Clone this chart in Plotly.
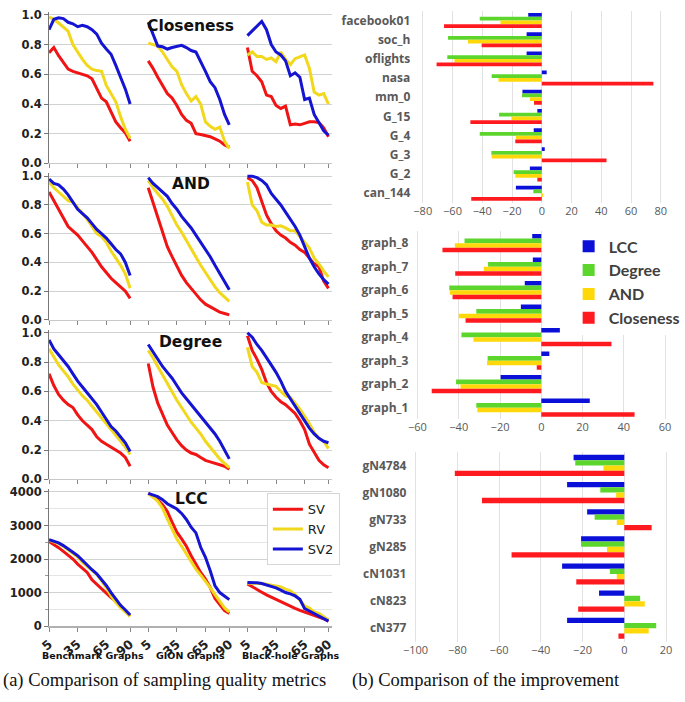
import plotly.graph_objects as go

W, H = 685, 702

# ---------------- Data: sampling quality metrics ----------------
rates = [5, 10, 15, 20, 25, 30, 35, 40, 45, 50, 55, 60, 65, 70, 75, 80, 85, 90]
groups = ["Benchmark Graphs", "GION Graphs", "Black-hole Graphs"]
metrics = ["Closeness", "AND", "Degree", "LCC"]
methods = ["SV", "RV", "SV2"]

closeness_sv = [
    [0.745, 0.78, 0.725, 0.68, 0.635, 0.62, 0.61, 0.605, 0.59, 0.57, 0.50, 0.44, 0.415, 0.35, 0.28, 0.24, 0.205, 0.15],
    [0.69, 0.64, 0.58, 0.52, 0.47, 0.44, 0.39, 0.33, 0.29, 0.27, 0.20, 0.195, 0.19, 0.18, 0.165, 0.15, 0.125, 0.11],
    [0.78, 0.62, 0.59, 0.55, 0.46, 0.45, 0.39, 0.37, 0.385, 0.26, 0.265, 0.26, 0.27, 0.28, 0.28, 0.275, 0.24, 0.18],
]
closeness_rv = [
    [0.985, 0.97, 0.945, 0.92, 0.89, 0.80, 0.745, 0.70, 0.66, 0.635, 0.625, 0.62, 0.525, 0.47, 0.415, 0.315, 0.23, 0.17],
    [0.81, 0.80, 0.79, 0.75, 0.70, 0.65, 0.62, 0.53, 0.47, 0.42, 0.45, 0.40, 0.28, 0.25, 0.23, 0.245, 0.15, 0.10],
    [0.73, 0.75, 0.72, 0.72, 0.70, 0.71, 0.685, 0.75, 0.70, 0.665, 0.705, 0.72, 0.73, 0.64, 0.48, 0.46, 0.47, 0.40],
]
closeness_sv2 = [
    [0.90, 0.97, 0.98, 0.975, 0.95, 0.94, 0.92, 0.93, 0.92, 0.90, 0.87, 0.81, 0.77, 0.735, 0.66, 0.58, 0.50, 0.40],
    [0.95, 0.87, 0.79, 0.785, 0.77, 0.78, 0.79, 0.795, 0.78, 0.76, 0.75, 0.69, 0.62, 0.55, 0.51, 0.43, 0.33, 0.26],
    [0.86, 0.89, 0.92, 0.955, 0.90, 0.80, 0.75, 0.73, 0.69, 0.59, 0.61, 0.58, 0.43, 0.44, 0.33, 0.27, 0.22, 0.19],
]

and_sv = [
    [0.89, 0.83, 0.77, 0.70, 0.65, 0.62, 0.59, 0.55, 0.51, 0.47, 0.42, 0.37, 0.33, 0.29, 0.26, 0.23, 0.20, 0.15],
    [0.92, 0.82, 0.71, 0.61, 0.51, 0.44, 0.37, 0.31, 0.26, 0.22, 0.18, 0.14, 0.11, 0.09, 0.07, 0.055, 0.045, 0.035],
    [0.99, 0.97, 0.92, 0.82, 0.73, 0.67, 0.62, 0.59, 0.57, 0.54, 0.52, 0.49, 0.47, 0.43, 0.39, 0.37, 0.27, 0.22],
]
and_rv = [
    [0.96, 0.92, 0.89, 0.86, 0.83, 0.82, 0.78, 0.74, 0.70, 0.65, 0.60, 0.58, 0.54, 0.48, 0.43, 0.38, 0.32, 0.22],
    [0.97, 0.92, 0.88, 0.84, 0.79, 0.72, 0.66, 0.61, 0.55, 0.49, 0.43, 0.38, 0.33, 0.28, 0.23, 0.19, 0.16, 0.13],
    [0.96, 0.80, 0.76, 0.68, 0.66, 0.66, 0.65, 0.655, 0.64, 0.62, 0.62, 0.58, 0.54, 0.50, 0.43, 0.39, 0.34, 0.30],
]
and_sv2 = [
    [0.98, 0.95, 0.94, 0.91, 0.87, 0.82, 0.77, 0.74, 0.71, 0.67, 0.63, 0.60, 0.57, 0.53, 0.49, 0.46, 0.40, 0.31],
    [0.99, 0.95, 0.92, 0.89, 0.86, 0.81, 0.77, 0.72, 0.68, 0.64, 0.59, 0.54, 0.49, 0.44, 0.38, 0.32, 0.27, 0.21],
    [1.00, 1.00, 0.99, 0.97, 0.94, 0.88, 0.84, 0.80, 0.75, 0.70, 0.65, 0.59, 0.51, 0.43, 0.37, 0.32, 0.28, 0.25],
]

degree_sv = [
    [0.72, 0.64, 0.58, 0.54, 0.51, 0.49, 0.44, 0.40, 0.37, 0.34, 0.29, 0.26, 0.24, 0.22, 0.20, 0.18, 0.15, 0.09],
    [0.79, 0.63, 0.52, 0.44, 0.37, 0.32, 0.27, 0.23, 0.20, 0.18, 0.17, 0.15, 0.13, 0.12, 0.11, 0.10, 0.09, 0.07],
    [0.98, 0.88, 0.82, 0.75, 0.66, 0.60, 0.56, 0.53, 0.51, 0.48, 0.45, 0.40, 0.34, 0.24, 0.18, 0.13, 0.10, 0.08],
]
degree_rv = [
    [0.89, 0.83, 0.78, 0.74, 0.70, 0.65, 0.61, 0.57, 0.54, 0.50, 0.46, 0.42, 0.38, 0.34, 0.30, 0.26, 0.22, 0.17],
    [0.88, 0.83, 0.77, 0.71, 0.65, 0.59, 0.54, 0.49, 0.44, 0.39, 0.35, 0.31, 0.26, 0.22, 0.18, 0.14, 0.11, 0.08],
    [0.90, 0.77, 0.73, 0.66, 0.65, 0.64, 0.635, 0.60, 0.57, 0.56, 0.52, 0.48, 0.43, 0.38, 0.32, 0.28, 0.26, 0.21],
]
degree_sv2 = [
    [0.95, 0.89, 0.85, 0.81, 0.77, 0.72, 0.67, 0.63, 0.59, 0.55, 0.51, 0.46, 0.41, 0.36, 0.33, 0.29, 0.25, 0.19],
    [0.92, 0.87, 0.82, 0.77, 0.73, 0.69, 0.64, 0.59, 0.55, 0.51, 0.47, 0.43, 0.39, 0.35, 0.31, 0.26, 0.20, 0.14],
    [1.00, 0.97, 0.92, 0.88, 0.83, 0.78, 0.73, 0.67, 0.60, 0.55, 0.50, 0.45, 0.40, 0.35, 0.31, 0.28, 0.26, 0.25],
]

lcc_sv = [
    [2520, 2440, 2340, 2230, 2120, 2000, 1850, 1720, 1600, 1380, 1240, 1100, 980, 850, 750, 600, 450, 300],
    [3960, 3860, 3760, 3620, 3420, 3100, 2800, 2600, 2380, 2100, 1850, 1600, 1400, 1150, 820, 640, 460, 380],
    [1260, 1170, 1090, 1010, 930, 860, 790, 720, 650, 590, 530, 470, 420, 380, 330, 280, 220, 150],
]
lcc_rv = [
    [2560, 2520, 2460, 2380, 2280, 2160, 2060, 1900, 1780, 1680, 1540, 1350, 1150, 900, 700, 550, 420, 290],
    [3950, 3850, 3720, 3520, 3200, 2900, 2600, 2380, 2140, 1900, 1700, 1520, 1340, 1150, 940, 720, 540, 420],
    [1280, 1280, 1280, 1270, 1250, 1230, 1210, 1170, 1100, 1050, 950, 780, 600, 540, 420, 380, 270, 180],
]
lcc_sv2 = [
    [2580, 2540, 2480, 2400, 2310, 2200, 2100, 1950, 1800, 1680, 1560, 1400, 1210, 1000, 800, 620, 480, 330],
    [3960, 3920, 3860, 3770, 3650, 3570, 3490, 3360, 3180, 2950, 2780, 2350, 2050, 1650, 1200, 1000, 890, 790],
    [1300, 1300, 1290, 1270, 1230, 1190, 1140, 1070, 1000, 960, 900, 800, 520, 450, 380, 300, 220, 150],
]

row_data = {
    "Closeness": [closeness_sv, closeness_rv, closeness_sv2],
    "AND": [and_sv, and_rv, and_sv2],
    "Degree": [degree_sv, degree_rv, degree_sv2],
    "LCC": [lcc_sv, lcc_rv, lcc_sv2],
}
x_tick_labels = [5, 35, 65, 90]

# ---------------- Data: improvement bars ----------------
bar_series = ["LCC", "Degree", "AND", "Closeness"]

p1_cats = ["facebook01", "soc_h", "oflights", "nasa", "mm_0", "G_15", "G_4", "G_3", "G_2", "can_144"]
p1_lcc = [-9.1, -10.2, -10.2, 3.3, -13.0, -3.0, -5.4, 2.0, -8.0, -17.4]
p1_degree = [-41.7, -63.0, -63.5, -33.7, -13.3, -28.7, -41.7, -33.9, -18.9, -5.7]
p1_and = [-27.8, -49.6, -58.7, -29.1, -8.0, -20.4, -17.4, -33.7, -17.8, 1.0]
p1_close = [-65.7, -40.4, -70.7, 75.0, -5.2, -48.0, -17.8, 43.5, -3.0, -47.4]

p2_cats = ["graph_8", "graph_7", "graph_6", "graph_5", "graph_4", "graph_3", "graph_2", "graph_1"]
p2_lcc = [-4.4, -4.1, -8.0, -9.9, 9.0, 3.9, -19.7, 23.5]
p2_degree = [-37.2, -25.8, -44.6, -31.5, -38.7, -26.0, -41.3, -31.5]
p2_and = [-41.9, -27.9, -44.3, -40.0, -32.9, -26.3, -39.2, -31.0]
p2_close = [-47.9, -41.7, -43.0, -36.7, 34.0, -2.2, -53.1, 45.2]

p3_cats = ["gN4784", "gN1080", "gN733", "gN285", "cN1031", "cN823", "cN377"]
p3_lcc = [-24.3, -27.4, -17.8, -20.7, -29.8, -12.1, -27.4]
p3_degree = [-23.5, -11.5, -14.2, -20.7, -6.9, 7.6, 15.3]
p3_and = [-10.0, -3.9, -3.6, -8.3, -3.6, 9.8, 11.7]
p3_close = [-81.2, -68.2, 13.1, -54.0, -23.0, -22.1, -2.8]

# ---------------- Styling ----------------
line_colors = {"SV": "#f01414", "RV": "#f2d81c", "SV2": "#1414d2"}
bar_colors = {"LCC": "#0a10d8", "Degree": "#5cd62c", "AND": "#ffd80a", "Closeness": "#ff1a1f"}
tick_font = dict(family="DejaVu Sans", size=11.5, color="#222222", weight="bold")
grid_c = "#cfd3d3"

def px_x(p):
    return p / W

def px_y(p):
    return 1 - p / H

fig = go.Figure()

seg_offset = 104
x_range = [5, 5 + 2 * seg_offset + 85 + 4]
tickvals = [g * seg_offset + v for g in range(3) for v in x_tick_labels]
ticktext = [str(v) for g in range(3) for v in x_tick_labels]

row_dom = [(8, 162), (172, 321), (331, 483), (493, 632)]
title_pos = [(185, 22), (185, 183), (185, 343), (186, 503)]

for r, metric in enumerate(metrics):
    xa = "x" if r == 0 else f"x{r + 1}"
    ya = "y" if r == 0 else f"y{r + 1}"
    for m, meth in enumerate(methods):
        series = row_data[metric][m]
        for g in range(3):
            fig.add_trace(go.Scatter(
                x=[g * seg_offset + v for v in rates], y=series[g],
                mode="lines", line=dict(color=line_colors[meth], width=3),
                name=meth, legendgroup=meth, showlegend=(r == 3 and g == 0),
                legend="legend", xaxis=xa, yaxis=ya, hoverinfo="skip",
            ))
    top, bot = row_dom[r]
    last = (r == 3)
    xdict = dict(
        domain=[px_x(40), px_x(330)], range=x_range, anchor=ya,
        tickvals=tickvals, ticktext=ticktext, showticklabels=last,
        ticks="outside", ticklen=4, tickcolor="#888888",
        tickangle=-40, tickfont=dict(family="DejaVu Sans", size=12.5, color="#222222", weight="bold"),
        showgrid=False, zeroline=False,
        showline=True, linecolor="#c8c8c8" if not last else "#b0b0b0", linewidth=1 if not last else 2,
    )
    if last:
        ydict = dict(
            domain=[px_y(bot), px_y(top)], range=[0, 4080], anchor=xa,
            tickvals=[0, 1000, 2000, 3000, 4000], tickfont=tick_font,
            showgrid=True, gridcolor=grid_c, zeroline=False,
            showline=True, linecolor="#777777", linewidth=1,
            ticks="outside", ticklen=4, tickcolor="#777777",
            minor=dict(tickvals=[500, 1500, 2500, 3500], showgrid=True,
                       gridcolor="#e4e6e6", ticks="outside", ticklen=3, tickcolor="#999999"),
        )
    else:
        ydict = dict(
            domain=[px_y(bot), px_y(top)], range=[0, 1.02], anchor=xa,
            tickvals=[0, 0.2, 0.4, 0.6, 0.8, 1.0], tickformat=".1f", tickfont=tick_font,
            showgrid=True, gridcolor=grid_c, zeroline=False,
            showline=True, linecolor="#777777", linewidth=1,
            ticks="outside", ticklen=4, tickcolor="#777777",
        )
    fig.layout["xaxis" if r == 0 else f"xaxis{r + 1}"] = xdict
    fig.layout["yaxis" if r == 0 else f"yaxis{r + 1}"] = ydict
    tx, ty = title_pos[r]
    fig.add_annotation(x=px_x(tx), y=px_y(ty), xref="paper", yref="paper",
                       text=metric, showarrow=False, xanchor="center", yanchor="middle",
                       font=dict(family="DejaVu Sans", size=15.5, color="#111111", weight="bold"))

for name, cx in zip(groups, [85, 185, 288]):
    fig.add_annotation(x=px_x(cx), y=px_y(662), xref="paper", yref="paper",
                       text=name, showarrow=False, xanchor="center", yanchor="middle",
                       font=dict(family="DejaVu Sans", size=9.5, color="#111111", weight="bold"))

# ---------------- Bar panels ----------------
panels = [
    (p1_cats, [p1_lcc, p1_degree, p1_and, p1_close], (415, 674), (7, 202), [-85, 85], list(range(-80, 81, 20))),
    (p2_cats, [p2_lcc, p2_degree, p2_and, p2_close], (413, 675), (231, 422), [-62, 62], list(range(-60, 61, 20))),
    (p3_cats, [p3_lcc, p3_degree, p3_and, p3_close], (411, 676), (455, 648), [-102, 22], list(range(-100, 21, 20))),
]
for i, (cats, vals, (xl, xr), (yt, yb), xr_range, xticks) in enumerate(panels):
    n = 5 + i
    xa, ya = f"x{n}", f"y{n}"
    for s, name in enumerate(bar_series):
        fig.add_trace(go.Bar(
            y=cats, x=vals[s], orientation="h", name=name,
            marker=dict(color=bar_colors[name], line=dict(width=0)),
            showlegend=(i == 1), legend="legend2",
            xaxis=xa, yaxis=ya, hoverinfo="skip",
        ))
    fig.layout[f"xaxis{n}"] = dict(
        domain=[px_x(xl), px_x(xr)], range=xr_range, anchor=ya,
        tickvals=xticks, showgrid=True, gridcolor="#e2e2e2", zeroline=False,
        showline=False, ticks="",
        tickfont=dict(family="Open Sans", size=11, color="#595959"),
    )
    fig.layout[f"yaxis{n}"] = dict(
        domain=[px_y(yb), px_y(yt)], anchor=xa, type="category",
        categoryorder="array", categoryarray=cats, autorange="reversed",
        showgrid=False, zeroline=False, showline=False, ticks="",
        ticklabelstandoff=4,
        tickfont=dict(family="Open Sans", size=12, color="#595959", weight="bold"),
    )

fig.update_layout(
    width=W, height=H, margin=dict(l=0, r=0, t=0, b=0),
    paper_bgcolor="white", plot_bgcolor="white",
    barmode="group", bargap=0.22, bargroupgap=0,
    legend=dict(x=px_x(263), y=px_y(497), xanchor="left", yanchor="top",
                bgcolor="white", bordercolor="#d6d6d6", borderwidth=1,
                font=dict(family="DejaVu Sans", size=13, color="#222222"),
                itemwidth=30, tracegroupgap=0),
    legend2=dict(x=px_x(572), y=px_y(229), xanchor="left", yanchor="top",
                 bgcolor="white", borderwidth=0,
                 font=dict(family="Lato", size=16, color="#404040", weight="bold"),
                 itemwidth=30),
    showlegend=True,
)

fig.add_annotation(x=px_x(-9), y=px_y(687), xref="paper", yref="paper",
                   text="(a) Comparison of sampling quality metrics", showarrow=False,
                   xanchor="left", yanchor="middle",
                   font=dict(family="Liberation Serif", size=18.5, color="#111111"))
fig.add_annotation(x=px_x(348), y=px_y(687), xref="paper", yref="paper",
                   text="(b) Comparison of the improvement", showarrow=False,
                   xanchor="left", yanchor="middle",
                   font=dict(family="Liberation Serif", size=18.5, color="#111111"))

fig.write_html("out.html", config={"displayModeBar": False},
               post_script="document.body.style.margin='0';document.body.style.padding='0';")
